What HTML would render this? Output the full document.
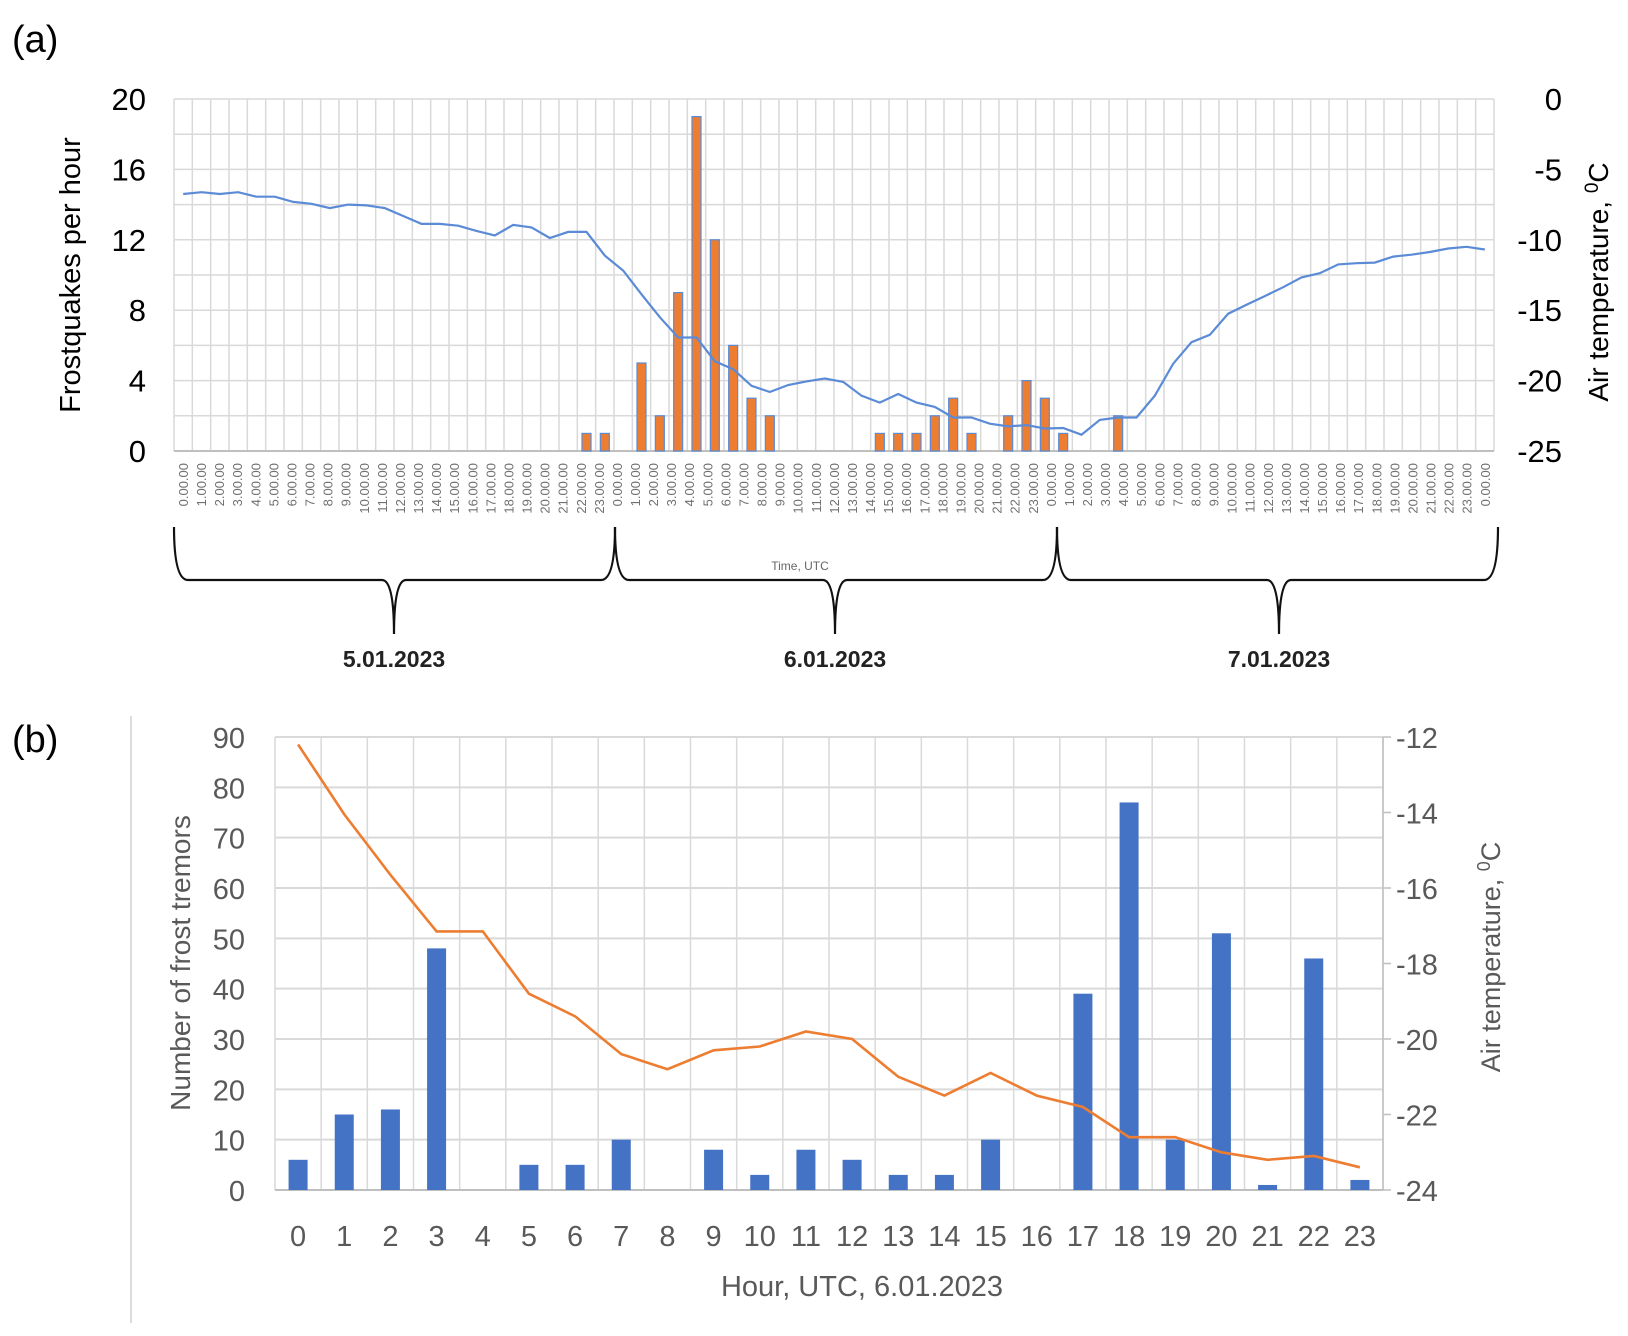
<!DOCTYPE html>
<html><head><meta charset="utf-8"><style>
html,body{margin:0;padding:0;background:#fff;}
svg{display:block;font-family:"Liberation Sans",sans-serif;}
</style></head><body>
<svg id="svg" width="1628" height="1336" viewBox="0 0 1628 1336" xmlns="http://www.w3.org/2000/svg">
<text x="12" y="52" font-size="38">(a)</text>
<text x="12" y="752" font-size="38">(b)</text>
<g id="chartA"></g>
<g id="chartB"></g>
</svg>
<script>
// ---- Chart A data ----
const aTickLabels = (function(){const r=[];for(let d=0;d<3;d++)for(let h=0;h<24;h++)r.push(h+".00.00");r.push("0.00.00");return r;})();
const aTempC = [-6.75,-6.62,-6.75,-6.62,-6.94,-6.94,-7.31,-7.44,-7.75,-7.5,-7.56,-7.75,-8.31,-8.87,-8.87,-9.0,-9.37,-9.69,-8.94,-9.12,-9.87,-9.44,-9.44,-11.12,
 -12.19,-13.87,-15.5,-16.94,-16.94,-18.62,-19.19,-20.37,-20.81,-20.31,-20.06,-19.85,-20.09,-21.07,-21.56,-20.95,-21.56,-21.87,-22.62,-22.62,-23.06,-23.25,-23.16,-23.4,
 -23.37,-23.84,-22.79,-22.62,-22.62,-21.07,-18.8,-17.27,-16.75,-15.25,-14.62,-14.0,-13.37,-12.67,-12.37,-11.75,-11.66,-11.62,-11.19,-11.06,-10.87,-10.62,-10.5,-10.69];
const aBarIdx = [22,23,25,26,27,28,29,30,31,32,38,39,40,41,42,43,45,46,47,48,51];
const aBarVal = [1,1,5,2,9,19,12,6,3,2,1,1,1,2,3,1,2,4,3,1,2];
const aLeftTicks = [0,4,8,12,16,20];
const aRightTicks = [-25,-20,-15,-10,-5,0];
const aDays = ["5.01.2023","6.01.2023","7.01.2023"];

// ---- Chart B data ----
const bHours = ["0","1","2","3","4","5","6","7","8","9","10","11","12","13","14","15","16","17","18","19","20","21","22","23"];
const bCounts = [6,15,16,48,0,5,5,10,0,8,3,8,6,3,3,10,0,39,77,10,51,1,46,2];
const bTemp = [-12.2,-14.05,-15.65,-17.15,-17.15,-18.8,-19.4,-20.4,-20.8,-20.3,-20.2,-19.8,-20.0,-21.0,-21.5,-20.9,-21.5,-21.8,-22.6,-22.6,-23.0,-23.2,-23.1,-23.4];
const bLeftTicks = [0,10,20,30,40,50,60,70,80,90];
const bRightTicks = [-24,-22,-20,-18,-16,-14,-12];

const NS="http://www.w3.org/2000/svg";
function mk(parent,tag,attrs,text){const e=document.createElementNS(NS,tag);for(const k in attrs)e.setAttribute(k,attrs[k]);if(text!==undefined)e.textContent=text;parent.appendChild(e);return e;}

// ===== Chart A =====
(function(){
const g=document.getElementById('chartA');
const L=174,R=1494,T=99,B=451,nCat=72,cw=(R-L)/nCat;
const xC=i=>L+cw*(i+0.5);
const yL=v=>B-(v/20)*(B-T);
const yR=t=>B-((t+25)/25)*(B-T);
for(let v=0;v<=20;v+=2){const l=mk(g,'line',{x1:L,x2:R,y1:yL(v),y2:yL(v),stroke:'#d9d9d9','stroke-width':1.5});

}
for(let i=0;i<=nCat;i++){const x=L+cw*i;const l=mk(g,'line',{x1:x,x2:x,y1:T,y2:B,stroke:'#d9d9d9','stroke-width':1.5});

}
mk(g,'line',{x1:L,x2:R,y1:B,y2:B,stroke:'#bfbfbf','stroke-width':2});
aBarIdx.forEach((ix,k)=>{const w=9;const y=yL(aBarVal[k]);
const r=mk(g,'rect',{x:xC(ix)-w/2,y:y,width:w,height:B-y,fill:'#ED7D31',stroke:'#5B8BD6','stroke-width':1.2});

});
const pts=aTempC.map((t,i)=>xC(i).toFixed(1)+','+yR(t).toFixed(1)).join(' ');
const pl=mk(g,'polyline',{points:pts,fill:'none',stroke:'#5B8BD6','stroke-width':2.2});


aLeftTicks.forEach(v=>{const t=mk(g,'text',{x:146,y:yL(v)+11,'font-size':31,'text-anchor':'end',fill:'#000'},String(v));

});
aRightTicks.forEach(v=>{const t=mk(g,'text',{x:1562,y:yR(v)+11,'font-size':31,'text-anchor':'end',fill:'#000'},String(v));

});
aTickLabels.forEach((s,i)=>{const x=183+18.08*i+5;const t=mk(g,'text',{x:x,y:463,'font-size':13,'text-anchor':'end',fill:'#707070',transform:`rotate(-90 ${x} 463)`},s);

});
let t=mk(g,'text',{x:0,y:0,'font-size':29,'text-anchor':'middle',transform:'translate(80 275) rotate(-90)'},'Frostquakes per hour');


t=mk(g,'text',{x:0,y:0,'font-size':28,'text-anchor':'middle',transform:'translate(1608 282) rotate(-90)'});


t.innerHTML='Air temperature, <tspan dy="-10" font-size="19">0</tspan><tspan dy="10">C</tspan>';
t=mk(g,'text',{x:800,y:570,'font-size':12,'text-anchor':'middle',fill:'#666'},'Time, UTC');


const braces=[[174,615,394],[615,1057,835],[1057,1498,1279]];
braces.forEach((b,k)=>{const [a,c,m]=b;const y0=527,y1=580,y2=634;
const d=`M${a} ${y0} Q${a} ${y1} ${a+14} ${y1} L${m-12} ${y1} Q${m} ${y1} ${m} ${y2} Q${m} ${y1} ${m+12} ${y1} L${c-14} ${y1} Q${c} ${y1} ${c} ${y0}`;
const p=mk(g,'path',{d:d,fill:'none',stroke:'#111','stroke-width':2.2});


const tx=mk(g,'text',{x:m,y:667,'font-size':23,'text-anchor':'middle','font-weight':'600',fill:'#222'},aDays[k]);

});
})();

// ===== Chart B =====
(function(){
const g=document.getElementById('chartB');
const L=275,R=1383,T=737,B=1190,n=bHours.length,cw=(R-L)/n;
const xC=i=>L+cw*(i+0.5);
const yL=v=>B-(v/90)*(B-T);
const yR=t=>B-((t+24)/12)*(B-T);
mk(g,'line',{x1:131,x2:131,y1:716,y2:1323,stroke:'#d0d0d0','stroke-width':1.5});
for(let v=10;v<=90;v+=10){const l=mk(g,'line',{x1:L,x2:R,y1:yL(v),y2:yL(v),stroke:'#d9d9d9','stroke-width':2});

}
for(let i=0;i<=n;i++){const x=L+cw*i;const l=mk(g,'line',{x1:x,x2:x,y1:T,y2:B,stroke:'#d9d9d9','stroke-width':1.5});

}
mk(g,'line',{x1:L,x2:R,y1:B,y2:B,stroke:'#bfbfbf','stroke-width':2});
mk(g,'line',{x1:R,x2:R,y1:T,y2:B,stroke:'#bfbfbf','stroke-width':1.5});
bRightTicks.forEach(v=>{mk(g,'line',{x1:R,x2:R+8,y1:yR(v),y2:yR(v),stroke:'#bfbfbf','stroke-width':1.5});});
bCounts.forEach((v,i)=>{if(v<=0)return;const w=19;const y=yL(v);
const r=mk(g,'rect',{x:xC(i)-w/2,y:y,width:w,height:B-y,fill:'#4472C4'});

});
const pts=bTemp.map((t,i)=>xC(i).toFixed(1)+','+yR(t).toFixed(1)).join(' ');
const pl=mk(g,'polyline',{points:pts,fill:'none',stroke:'#ED7D31','stroke-width':2.6});


bLeftTicks.forEach(v=>{const t=mk(g,'text',{x:245,y:yL(v)+11,'font-size':29,'text-anchor':'end',fill:'#595959'},String(v));

});
bRightTicks.forEach(v=>{const t=mk(g,'text',{x:1396,y:yR(v)+11,'font-size':29,fill:'#595959'},String(v));

});
bHours.forEach((h,i)=>{const t=mk(g,'text',{x:xC(i),y:1246,'font-size':29,'text-anchor':'middle',fill:'#595959'},h);

});
let t=mk(g,'text',{x:862,y:1296,'font-size':29,'text-anchor':'middle',fill:'#595959'},'Hour, UTC, 6.01.2023');


t=mk(g,'text',{x:0,y:0,'font-size':28,'text-anchor':'middle',fill:'#595959',transform:'translate(190 963) rotate(-90)'},'Number of frost tremors');


t=mk(g,'text',{x:0,y:0,'font-size':27,'text-anchor':'middle',fill:'#595959',transform:'translate(1500 957) rotate(-90)'});


t.innerHTML='Air temperature, <tspan dy="-10" font-size="18">0</tspan><tspan dy="10">C</tspan>';
})();
</script>
</body></html>
